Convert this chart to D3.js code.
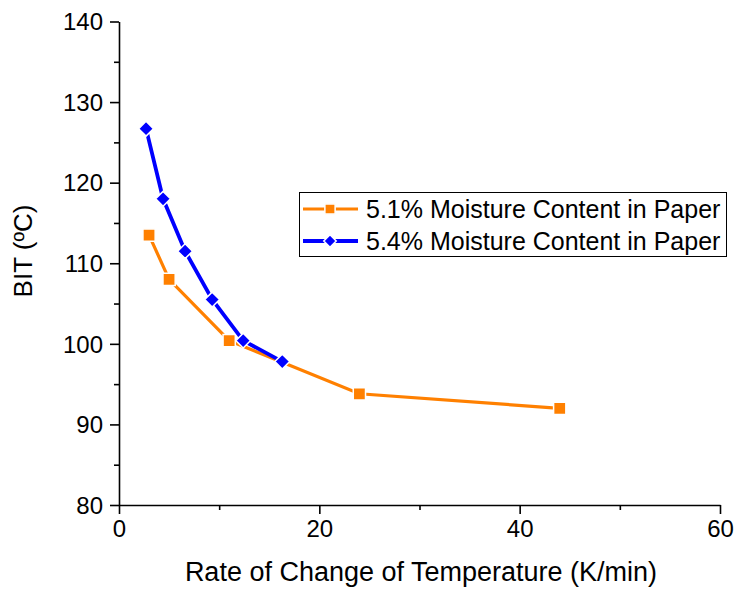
<!DOCTYPE html>
<html>
<head>
<meta charset="utf-8">
<script src="https://cdn.jsdelivr.net/npm/d3@7"></script>
<style>
  body { margin: 0; background: #fff; }
  svg { font-family: "Liberation Sans", Arial, sans-serif; }
</style>
</head>
<body>
<div id="chart"></div>
<script>
const width = 736;
const height = 590;

// data
const rate51 = [3.0, 5.0, 11.0, 24.0, 44.0];
const bit51 = [113.5, 108.0, 100.4, 93.8, 92.0];
const rate54 = [2.7, 4.4, 6.6, 9.3, 12.4, 16.3];
const bit54 = [126.7, 118.0, 111.5, 105.5, 100.4, 97.8];
const seriesNames = [
  "5.1% Moisture Content in Paper",
  "5.4% Moisture Content in Paper",
];
const xTicks = [0, 20, 40, 60];
const yTicks = [80, 90, 100, 110, 120, 130, 140];

const orange = "#ff8000";
const blue = "#0000ff";

const svg = d3
  .select("#chart")
  .append("svg")
  .attr("width", width)
  .attr("height", height);

const x = d3.scaleLinear().domain([0, 60]).range([119, 720]);
const y = d3.scaleLinear().domain([80, 140]).range([505, 21.5]);

// minor ticks
svg
  .append("g")
  .attr("transform", `translate(0, ${y(80)})`)
  .call(d3.axisBottom(x).tickValues([10, 30, 50]).tickSize(5).tickFormat(""))
  .call((g) => g.select(".domain").remove());

svg
  .append("g")
  .attr("transform", `translate(${x(0)}, 0)`)
  .call(
    d3.axisLeft(y).tickValues([85, 95, 105, 115, 125, 135]).tickSize(5).tickFormat("")
  )
  .call((g) => g.select(".domain").remove());

const xAxis = svg
  .append("g")
  .attr("transform", `translate(0, ${y(80)})`)
  .call(d3.axisBottom(x).tickValues(xTicks).tickSize(9).tickSizeOuter(0));

const yAxis = svg
  .append("g")
  .attr("transform", `translate(${x(0)}, 0)`)
  .call(d3.axisLeft(y).tickValues(yTicks).tickSize(9).tickSizeOuter(0).tickPadding(7));

svg.selectAll(".tick line, .domain").attr("stroke", "#000").attr("stroke-width", 1.6);
svg
  .selectAll(".tick text")
  .style("font-family", "'Liberation Sans', Arial, sans-serif")
  .style("font-size", "24px")
  .attr("fill", "#000");
xAxis.selectAll(".tick text").attr("y", 32).attr("dy", 0);
yAxis.selectAll(".tick text").attr("dy", "0.34em");

// axis titles
svg
  .append("text")
  .attr("x", 421)
  .attr("y", 581)
  .attr("text-anchor", "middle")
  .style("font-size", "27px")
  .text("Rate of Change of Temperature (K/min)");

svg
  .append("text")
  .attr("transform", "translate(32, 251) rotate(-90)")
  .attr("text-anchor", "middle")
  .style("font-size", "26px")
  .text("BIT (ºC)");

const line = d3
  .line()
  .x((d) => x(d[0]))
  .y((d) => y(d[1]));

const data51 = rate51.map((r, i) => [r, bit51[i]]);
const data54 = rate54.map((r, i) => [r, bit54[i]]);

const square = d3.symbol().type(d3.symbolSquare).size(150);
const diamond = d3
  .symbol()
  .type({
    draw(ctx, size) {
      const r = Math.sqrt(size / 2);
      ctx.moveTo(0, -r);
      ctx.lineTo(r, 0);
      ctx.lineTo(0, r);
      ctx.lineTo(-r, 0);
      ctx.closePath();
    },
  })
  .size(110);

function drawSeries(data, color, sym, lw) {
  svg
    .append("path")
    .datum(data)
    .attr("d", line)
    .attr("fill", "none")
    .attr("stroke", color)
    .attr("stroke-width", lw);

  svg
    .append("g")
    .selectAll("path")
    .data(data)
    .join("path")
    .attr("transform", (d) => `translate(${x(d[0])}, ${y(d[1])})`)
    .attr("d", sym)
    .attr("fill", color)
    .attr("stroke", "#fff")
    .attr("stroke-width", 1.5);
}

drawSeries(data51, orange, square, 3.2);
drawSeries(data54, blue, diamond, 3.8);

// legend
const legend = svg.append("g");
legend
  .append("rect")
  .attr("x", 299.5)
  .attr("y", 192.5)
  .attr("width", 427)
  .attr("height", 64)
  .attr("fill", "#fff")
  .attr("stroke", "#000")
  .attr("stroke-width", 1);

const legendItems = [
  { name: seriesNames[0], color: orange, sym: square, lw: 3.2 },
  { name: seriesNames[1], color: blue, sym: diamond, lw: 3.8 },
];

legendItems.forEach((item, i) => {
  const cy = 209 + i * 32;
  legend
    .append("line")
    .attr("x1", 303)
    .attr("x2", 358)
    .attr("y1", cy)
    .attr("y2", cy)
    .attr("stroke", item.color)
    .attr("stroke-width", item.lw);
  legend
    .append("path")
    .attr("transform", `translate(330, ${cy})`)
    .attr("d", d3.symbol().type(item.sym.type()).size(item.sym.size()() * 0.7))
    .attr("fill", item.color)
    .attr("stroke", "#fff")
    .attr("stroke-width", 1.5);
  legend
    .append("text")
    .attr("x", 366)
    .attr("y", cy + 9)
    .style("font-size", "25px")
    .text(item.name);
});
</script>
</body>
</html>
